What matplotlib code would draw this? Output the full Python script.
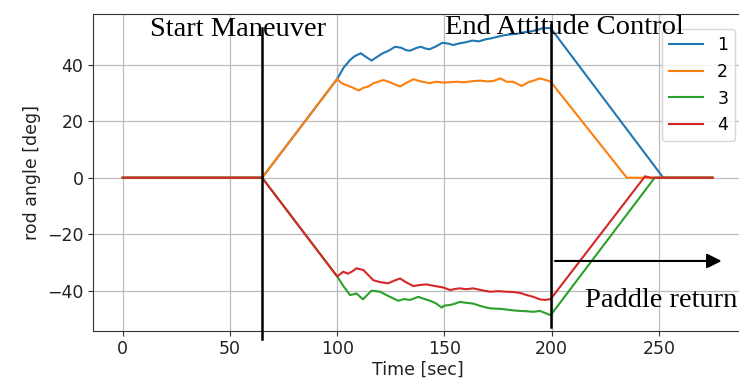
import matplotlib
matplotlib.use("Agg")
import matplotlib.pyplot as plt

# ---- data ----
t1 = [0, 65, 100, 103, 106, 108, 111, 113, 116, 118, 121, 124, 127, 130, 132, 134, 137, 139, 141, 143,
      146, 149, 152, 154, 157, 160, 163, 166, 169, 172, 175, 178, 181, 184, 187, 190, 193, 196, 199.5, 252, 275]
v1 = [0, 0, 35, 39, 41.7, 43, 44.1, 43, 41.5, 42.5, 44, 45, 46.4, 46, 45.2, 45, 46, 46.4, 45.8, 45.5,
      46.5, 47.8, 47.5, 47, 47.6, 48, 48.6, 48.3, 49, 49.4, 50, 50.5, 50.8, 51, 51.5, 51.8, 52.3, 53, 53, 0, 0]

t2 = [0, 65, 100, 102, 104, 107, 110, 112, 114.5, 117, 119, 121.5, 124, 127, 129.3, 132, 135.5, 138, 141,
      143.3, 146, 149.5, 152, 155.7, 159, 163, 166.6, 170, 173, 176, 179, 182, 186, 189, 192, 194.5, 197.7,
      199.5, 235, 275]
v2 = [0, 0, 35, 33.5, 32.9, 32, 30.9, 31.8, 32.3, 33.5, 34, 34.6, 34, 33, 32.3, 33.5, 34.9, 34.3, 33.8,
      33.5, 34, 33.7, 33.8, 34, 33.8, 34.2, 34.4, 34.1, 34.3, 35.2, 34, 34, 32.5, 33.8, 34.5, 35.2, 34.5,
      34, 0, 0]

t3 = [0, 65, 100, 103, 106, 109, 112, 116, 120, 122, 124.6, 128.5, 131, 134, 137.8, 140, 143.3, 146, 148.7,
      150, 152.6, 155, 157.2, 160, 163.4, 167, 171.2, 175, 179, 182, 185.2, 188, 191.4, 194.5, 196.5, 199.5,
      248, 275]
v3 = [0, 0, -35, -38.5, -41.6, -41, -43.1, -40, -40.4, -41.2, -42.2, -43.6, -43, -43.3, -42.2, -42.8, -43.6,
      -44.5, -46, -45.3, -45.1, -44.6, -44, -44.3, -44.6, -45.5, -46.3, -46.4, -46.7, -47, -47.2, -47.3, -47.5,
      -47.2, -47.8, -48.7, 0, 0]

t4 = [0, 65, 100, 102.8, 105, 107, 109, 112.2, 114.5, 116.8, 120, 123.8, 126.5, 129.3, 132, 135.5, 138.5,
      141.7, 145, 149.5, 152.6, 155, 157.2, 160, 163.4, 167, 171.2, 175, 179, 182, 185.2, 188, 191.4, 194.5,
      196.8, 199.5, 243.5, 246, 275]
v4 = [0, 0, -35, -33.3, -34, -33.2, -32.1, -32.7, -34.5, -36.3, -37, -37.4, -36.5, -35.7, -37, -38.4, -38,
      -37.8, -38.3, -38.9, -39.8, -39.4, -39.2, -39.5, -39.2, -39.8, -40.4, -40.2, -40.4, -40.5, -40.8, -41.5,
      -42.2, -43.1, -43.3, -43, 0.5, 0, 0]

series_labels = ["1", "2", "3", "4"]
series_colors = ["#1f77b4", "#ff7f0e", "#2ca02c", "#d62728"]

event_times = [65, 199.5]
event_labels = ["Start Maneuver", "End Attitude Control"]
arrow_label = "Paddle return"

# ---- figure ----
fig = plt.figure(figsize=(7.39, 3.86), dpi=100)
ax = fig.add_axes([93.2 / 739, (386 - 330.7) / 386, (742.1 - 93.2) / 739, (330.7 - 14) / 386])

for t, v, lab, c in zip([t1, t2, t3, t4], [v1, v2, v3, v4], series_labels, series_colors):
    ax.plot(t, v, color=c, lw=1.5, label=lab)

ax.set_xlim(-13.75, 288.75)
ax.set_ylim(-54.2, 58.0)
ax.set_xticks([0, 50, 100, 150, 200, 250])
ax.set_yticks([-40, -20, 0, 20, 40])
ax.grid(True, color="#bcbcbc", lw=0.9)
for s in ax.spines.values():
    s.set_color("#333333")
ax.tick_params(labelsize=12.5, color="#333333", labelcolor="#222222")
ax.set_xlabel("Time [sec]", fontsize=12.5, labelpad=2, color="#222222")
ax.set_ylabel("rod angle [deg]", fontsize=12.5, color="#222222")

leg = ax.legend(loc="upper left", bbox_to_anchor=(0.876, 0.952), fontsize=12.5,
                framealpha=0.8, borderaxespad=0)

# event lines
ax.plot([event_times[0], event_times[0]], [53, -57.2], color="black", lw=1.8, clip_on=False, zorder=5)
ax.plot([event_times[1], event_times[1]], [54, -53], color="black", lw=1.8, clip_on=False, zorder=5)

serif = ["Liberation Serif", "DejaVu Serif"]
ax.text(12.7, 50.05, event_labels[0], family=serif, fontsize=20.5, va="baseline", ha="left",
        clip_on=False, zorder=6)
ax.text(150.2, 50.8, event_labels[1], family=serif, fontsize=20.5, va="baseline", ha="left",
        clip_on=False, zorder=6)
ax.text(215.5, -45.7, arrow_label, family=serif, fontsize=20.5, va="baseline", ha="left",
        clip_on=False, zorder=6)

ax.annotate("", xy=(279.2, -29.5), xytext=(201.5, -29.5),
            arrowprops=dict(arrowstyle="-|>", color="black", lw=1.5, mutation_scale=22,
                            shrinkA=0, shrinkB=0))

fig.savefig("out.png", dpi=100)
